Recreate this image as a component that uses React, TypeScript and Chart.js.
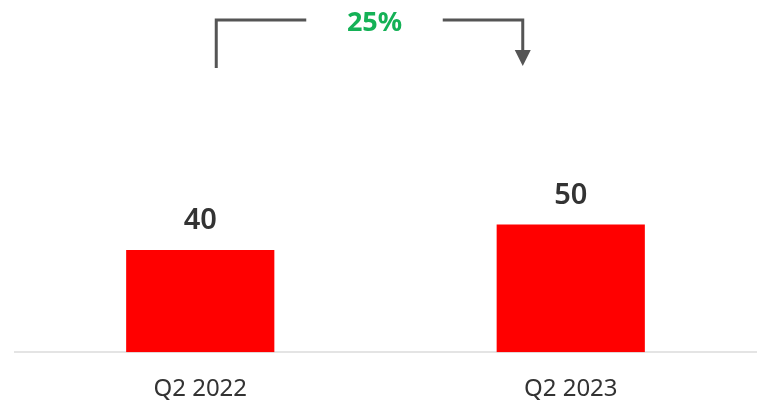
import React, { useEffect, useRef } from "react";
import { Chart, registerables } from "chart.js";

Chart.register(...registerables);

const categories = ["Q2 2022", "Q2 2023"];
const values = [40, 50];
const changeLabel = "25%";

const FONT = "'Noto Sans', 'Open Sans', sans-serif";

const annotatePlugin = {
  id: "annotate",
  afterDatasetsDraw(chart: any) {
    const ctx = chart.ctx;
    const meta = chart.getDatasetMeta(0);
    // value labels
    ctx.save();
    ctx.fillStyle = "#333333";
    ctx.font = `600 29px ${FONT}`;
    ctx.textAlign = "center";
    ctx.textBaseline = "alphabetic";
    meta.data.forEach((bar: any, i: number) => {
      ctx.fillText(String(values[i]), bar.x, bar.y - 21);
    });
    ctx.restore();

    // change arrow
    const x0 = meta.data[0].x + 16;
    const x1 = meta.data[1].x - 48;
    const yTop = 20;
    const yStart = 68;
    const gapL = x0 + 90;
    const gapR = x1 - 80;
    ctx.save();
    ctx.strokeStyle = "#555555";
    ctx.fillStyle = "#555555";
    ctx.lineWidth = 3;
    ctx.lineCap = "butt";
    ctx.lineJoin = "miter";
    ctx.beginPath();
    ctx.moveTo(x0, yStart);
    ctx.lineTo(x0, yTop);
    ctx.lineTo(gapL, yTop);
    ctx.stroke();
    ctx.beginPath();
    ctx.moveTo(gapR, yTop);
    ctx.lineTo(x1, yTop);
    ctx.lineTo(x1, 52);
    ctx.stroke();
    ctx.beginPath();
    ctx.moveTo(x1 - 8, 50);
    ctx.lineTo(x1 + 8, 50);
    ctx.lineTo(x1, 66);
    ctx.closePath();
    ctx.fill();

    ctx.fillStyle = "#14b156";
    ctx.font = `bold 27px ${FONT}`;
    ctx.textAlign = "center";
    ctx.textBaseline = "alphabetic";
    ctx.fillText(changeLabel, (gapL + gapR) / 2, 31);
    ctx.restore();
  },
};

export default function App() {
  const ref = useRef<HTMLCanvasElement>(null);
  useEffect(() => {
    document.body.style.margin = "0";
    const chart = new Chart(ref.current!, {
      type: "bar",
      data: {
        labels: categories,
        datasets: [
          {
            data: values,
            backgroundColor: "#ff0000",
            barPercentage: 0.4,
            categoryPercentage: 1,
          },
        ],
      },
      options: {
        animation: false,
        responsive: false,
        layout: { padding: { left: 15, right: 13, top: 0, bottom: -23 } },
        plugins: { legend: { display: false }, tooltip: { enabled: false } },
        scales: {
          x: {
            grid: { display: false, drawTicks: false },
            border: { display: true, color: "#e4e4e4", width: 2 },
            ticks: {
              color: "#333333",
              padding: 23,
              font: { family: FONT, size: 24 },
            },
          },
          y: {
            display: false,
            min: 0,
            max: 138,
          },
        },
      },
      plugins: [annotatePlugin],
    });
    return () => chart.destroy();
  }, []);
  return (
    <div style={{ width: 769, height: 404, background: "#ffffff" }}>
      <canvas ref={ref} width={769} height={404} style={{ display: "block" }} />
    </div>
  );
}
